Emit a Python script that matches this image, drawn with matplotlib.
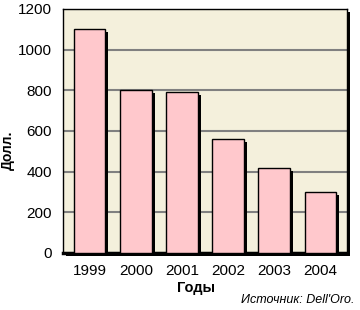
import matplotlib
matplotlib.use("Agg")
import matplotlib.pyplot as plt
import matplotlib.transforms as mtransforms
from matplotlib.patches import Rectangle

# Chart data
years = ["1999", "2000", "2001", "2002", "2003", "2004"]
values = [1100, 800, 790, 560, 420, 300]
y_ticks = [0, 200, 400, 600, 800, 1000, 1200]

plot_bg = "#F4F0DC"
bar_color = "#FFC8CC"

plt.rcParams["font.family"] = ["Liberation Sans", "DejaVu Sans"]

fig = plt.figure(figsize=(3.6, 3.1), dpi=100)
fig.patch.set_facecolor("white")
ax = fig.add_axes([63 / 360, 57 / 310, 284 / 360, 244 / 310])
ax.set_facecolor(plot_bg)

x = list(range(len(years)))
shift = mtransforms.ScaledTranslation(3 / 100, -3 / 100, fig.dpi_scale_trans)

# Shadow of the plot frame
frame_shadow = Rectangle((0, 0), 1, 1, facecolor="black", edgecolor="none",
                         zorder=-1, clip_on=False)
fig.patches.append(frame_shadow)
frame_shadow.set_transform(ax.transAxes + shift)
ax.set_zorder(1)

# Bar shadows and bars
ax.bar(x, values, width=0.68, color="black", transform=ax.transData + shift,
       zorder=2)
ax.bar(x, values, width=0.68, color=bar_color, edgecolor="black",
       linewidth=1.0, zorder=3)

ax.set_xlim(-0.58, 5.58)
ax.set_ylim(0, 1200)
ax.set_yticks(y_ticks)
ax.set_xticks(x)
ax.set_xticklabels(years)
ax.yaxis.grid(True, color="#808080", linewidth=1.5)
ax.set_axisbelow(True)
ax.tick_params(length=0, labelsize=11)
ax.tick_params(axis="y", pad=8)
ax.tick_params(axis="x", pad=8)

for side in ["top", "right", "left"]:
    ax.spines[side].set_linewidth(1.0)
ax.spines["bottom"].set_linewidth(2.5)

ax.set_ylabel("Долл.", fontsize=10, fontweight="bold")
ax.yaxis.set_label_coords(-0.168, 0.42)
ax.set_xlabel("Годы", fontsize=10.5, fontweight="bold")
ax.xaxis.set_label_coords(0.47, -0.115)
fig.text(0.985, 0.012, "Источник: Dell'Oro.", ha="right", va="bottom",
         fontsize=9, style="italic")

fig.savefig("out.png", dpi=100, facecolor="white")
